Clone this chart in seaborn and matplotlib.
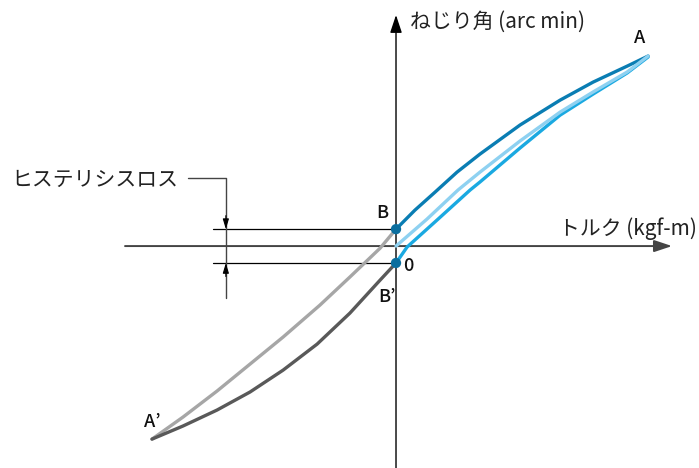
import matplotlib
matplotlib.use("Agg")
import matplotlib.pyplot as plt
import seaborn as sns

# ---------------------------------------------------------------------------
# data (torque / twist angle, normalised so that A = (1, 1))
# ---------------------------------------------------------------------------
load_up_x = [0.0, 0.075, 0.155, 0.242, 0.333, 0.492, 0.651, 0.782, 0.917, 1.0]
load_up_y = [0.089, 0.189, 0.284, 0.389, 0.484, 0.637, 0.768, 0.863, 0.947, 1.0]

first_x = [0.0, 0.123, 0.246, 0.333, 0.492, 0.651, 0.782, 0.917, 1.0]
first_y = [0.0, 0.142, 0.295, 0.389, 0.553, 0.705, 0.811, 0.916, 1.0]

load_low_x = [0.0, 0.044, 0.167, 0.294, 0.333, 0.492, 0.651, 0.782, 0.917, 1.0]
load_low_y = [-0.089, -0.005, 0.142, 0.295, 0.337, 0.516, 0.689, 0.80, 0.911, 0.995]

neg_up_x = [-0.968, -0.845, -0.710, -0.579, -0.448, -0.302, -0.183, -0.063, 0.0]
neg_up_y = [-1.016, -0.900, -0.763, -0.621, -0.479, -0.311, -0.163, -0.011, 0.089]

neg_low_x = [-0.968, -0.845, -0.710, -0.579, -0.448, -0.313, -0.183, -0.063, 0.0]
neg_low_y = [-1.016, -0.947, -0.863, -0.768, -0.653, -0.516, -0.353, -0.179, -0.089]

point_x = [0.0, 0.0]
point_y = [0.089, -0.089]

CJK = ["Noto Sans CJK JP", "DejaVu Sans"]

sns.set_theme(style="white")
plt.rcParams["font.family"] = CJK

fig = plt.figure(figsize=(6.99, 4.68), dpi=100)
ax = fig.add_axes([0, 0, 1, 1])
ax.set_xlim(-1.571, 1.202)
ax.set_ylim(-1.168, 1.295)
ax.axis("off")

# axes with arrows
ax.annotate("", xy=(1.095, 0), xytext=(-1.075, 0),
            arrowprops=dict(arrowstyle="-|>,head_length=0.9,head_width=0.3",
                            color="#444444", lw=1.4, shrinkA=0, shrinkB=0))
ax.annotate("", xy=(0, 1.216), xytext=(0, -1.17),
            arrowprops=dict(arrowstyle="-|>,head_length=0.9,head_width=0.3",
                            color="black", lw=1.0, shrinkA=0, shrinkB=0))

# hysteresis-loss dimension lines
for yy in point_y:
    ax.plot([-0.726, -0.012], [yy, yy], color="black", lw=0.9, zorder=2)
ax.plot([-0.825, -0.675, -0.675], [0.358, 0.358, -0.274], color="#444444", lw=1.0)
ax.annotate("", xy=(-0.675, 0.089), xytext=(-0.675, 0.16),
            arrowprops=dict(arrowstyle="-|>,head_length=0.5,head_width=0.15",
                            color="black", lw=0.8, shrinkA=0, shrinkB=0))
ax.annotate("", xy=(-0.675, -0.089), xytext=(-0.675, -0.16),
            arrowprops=dict(arrowstyle="-|>,head_length=0.5,head_width=0.15",
                            color="black", lw=0.8, shrinkA=0, shrinkB=0))

# curves
curves = [
    (neg_up_x, neg_up_y, "#A6A6A6"),
    (neg_low_x, neg_low_y, "#595959"),
    (load_low_x, load_low_y, "#1AA9E1"),
    (load_up_x, load_up_y, "#0A7DB3"),
    (first_x, first_y, "#8ED1F1"),
]
for xs, ys, col in curves:
    sns.lineplot(x=xs, y=ys, sort=False, estimator=None, color=col,
                 lw=2.4, ax=ax, zorder=3)

sns.scatterplot(x=point_x, y=point_y, color="#0B6E9E", s=55,
                edgecolor="none", ax=ax, zorder=5)

# labels
ax.text(0.056, 1.179, "ねじり角 (arc min)", fontsize=15, va="center", ha="left",
        color="#222222")
ax.text(1.194, 0.089, "トルク (kgf-m)", fontsize=15, va="center", ha="right",
        color="#222222")
ax.text(-0.865, 0.347, "ヒステリシスロス", fontsize=15, va="center", ha="right",
        color="#222222")
for txt, x, y in [("A", 0.968, 1.095), ("B", -0.056, 0.174), ("0", 0.048, -0.105),
                  ("B\u2019", -0.036, -0.268), ("A\u2019", -0.968, -0.926)]:
    ax.text(x, y, txt, fontsize=13, fontweight="medium", va="center",
            ha="center", color="#111111")

fig.savefig("out.png", dpi=100)
